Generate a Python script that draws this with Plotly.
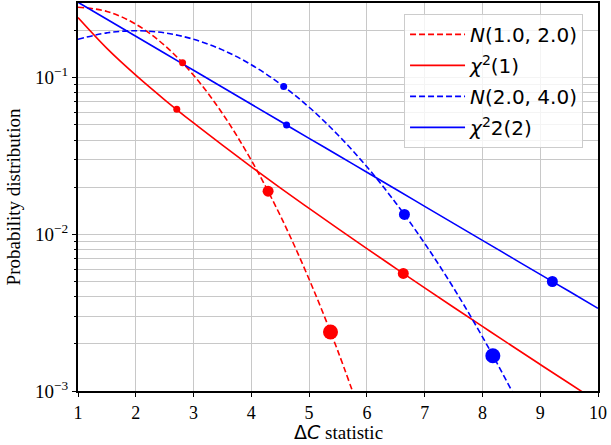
import plotly.graph_objects as go

# Curve sample points
x_curve = [1.0, 1.5, 2.0, 2.5, 3.0, 3.5, 4.0, 4.5, 5.0, 5.5, 6.0, 6.5, 7.0, 7.5, 8.0, 8.5, 9.0, 9.5, 10.0]

n1_x = [1.0, 1.5, 2.0, 2.5, 3.0, 3.5, 4.0, 4.5, 5.0, 5.5, 6.0]
n1_y = [0.282, 0.265, 0.2197, 0.1607, 0.1038, 0.0591, 0.0297, 0.0132, 0.00517, 0.00179, 0.000545]

chi1_y = [0.242, 0.1539, 0.1038, 0.0723, 0.0514, 0.0371, 0.0270, 0.0198, 0.01465, 0.01088,
          0.00811, 0.00607, 0.004554, 0.003426, 0.002584, 0.001952, 0.001477, 0.00112, 0.00085]

n2_x = [1.0, 1.5, 2.0, 2.5, 3.0, 3.5, 4.0, 4.5, 5.0, 5.5, 6.0, 6.5, 7.0, 7.5, 8.0, 8.5, 9.0]
n2_y = [0.176, 0.1933, 0.1995, 0.1933, 0.176, 0.1506, 0.121, 0.0913, 0.0648, 0.0431, 0.027,
        0.01587, 0.00876, 0.00455, 0.002216, 0.001014, 0.000436]

chi2_y = [0.3033, 0.2362, 0.1839, 0.1433, 0.1116, 0.0869, 0.0677, 0.0527, 0.041, 0.032,
          0.0249, 0.0194, 0.0151, 0.01176, 0.00916, 0.00713, 0.00555, 0.00433, 0.00337]

# Marked points (significance levels 0.1, 0.01, 0.001)
n1_mx = [2.81, 4.29, 5.37]
n1_my = [0.1244, 0.01885, 0.00238]
chi1_mx = [2.71, 6.63]
chi1_my = [0.0629, 0.00563]
n2_mx = [4.56, 6.65, 8.18]
n2_my = [0.0879, 0.0134, 0.00168]
chi2_mx = [4.61, 9.21]
chi2_my = [0.0499, 0.0050]
marker_sizes = [7, 11, 15]

labels = ["<i>N</i>(1.0, 2.0)", "<i>χ</i><sup>2</sup>(1)", "<i>N</i>(2.0, 4.0)", "<i>χ</i><sup>2</sup>2(2)"]

RED = "#ff0000"
BLUE = "#0000ff"

fig = go.Figure()
fig.add_trace(go.Scatter(x=n1_x, y=n1_y, mode="lines", name=labels[0], legendgroup="a",
                         line=dict(color=RED, width=1.6, dash="6px,3px", shape="spline")))
fig.add_trace(go.Scatter(x=x_curve, y=chi1_y, mode="lines", name=labels[1], legendgroup="b",
                         line=dict(color=RED, width=1.6, shape="spline")))
fig.add_trace(go.Scatter(x=n2_x, y=n2_y, mode="lines", name=labels[2], legendgroup="c",
                         line=dict(color=BLUE, width=1.6, dash="6px,3px", shape="spline")))
fig.add_trace(go.Scatter(x=x_curve, y=chi2_y, mode="lines", name=labels[3], legendgroup="d",
                         line=dict(color=BLUE, width=1.6, shape="spline")))

for mx, my, col in [(n1_mx, n1_my, RED), (chi1_mx, chi1_my, RED),
                    (n2_mx, n2_my, BLUE), (chi2_mx, chi2_my, BLUE)]:
    fig.add_trace(go.Scatter(x=mx, y=my, mode="markers", showlegend=False,
                             marker=dict(color=col, size=marker_sizes[:len(mx)], opacity=1,
                                         line=dict(width=0))))

serif = "Liberation Serif"
grid = "#c8c8c8"
minor_vals = [m * 10 ** e for e in (-3, -2, -1) for m in range(2, 10) if m * 10 ** e <= 0.3]

fig.update_layout(
    width=611, height=445,
    margin=dict(l=78, r=13, t=3, b=54, autoexpand=False),
    paper_bgcolor="white", plot_bgcolor="white",
    font=dict(family=serif, size=19, color="black"),
    legend=dict(x=0.627, y=0.972, xanchor="left", yanchor="top",
                bgcolor="rgba(255,255,255,0.8)", bordercolor="#cccccc", borderwidth=1,
                font=dict(family="DejaVu Sans", size=20, color="black"),
                tracegroupgap=2, itemwidth=55),
    xaxis=dict(range=[1, 10], dtick=1, tick0=1, showgrid=True, gridcolor=grid, gridwidth=1,
               showline=True, linecolor="black", linewidth=2, mirror=True,
               ticks="outside", ticklen=4, tickcolor="black", zeroline=False,
               tickfont=dict(family=serif, size=18)),
    yaxis=dict(type="log", range=[-3, -0.523], tickmode="array",
               tickvals=[0.001, 0.01, 0.1],
               ticktext=["10<sup>−3</sup>", "10<sup>−2</sup>", "10<sup>−1</sup>"],
               tickfont=dict(family=serif, size=19),
               showgrid=True, gridcolor=grid, gridwidth=1,
               showline=True, linecolor="black", linewidth=2, mirror=True,
               ticks="outside", ticklen=4, tickcolor="black", zeroline=False,
               minor=dict(tickmode="array", tickvals=minor_vals, showgrid=True, gridcolor=grid,
                          gridwidth=1, ticks="outside", ticklen=2, tickcolor="black"),
               title=dict(text="Probability distribution", standoff=9,
                          font=dict(family=serif, size=19))),
    annotations=[dict(text="<span style='font-family:DejaVu Sans'>Δ<i>C</i></span> statistic",
                      x=0.5, y=0, xref="paper", yref="paper", xanchor="center", yanchor="top",
                      yshift=-28, showarrow=False, font=dict(family=serif, size=19))],
)

fig.write_html("out.html", config={"displayModeBar": False},
               post_script="document.body.style.margin='0px';")
